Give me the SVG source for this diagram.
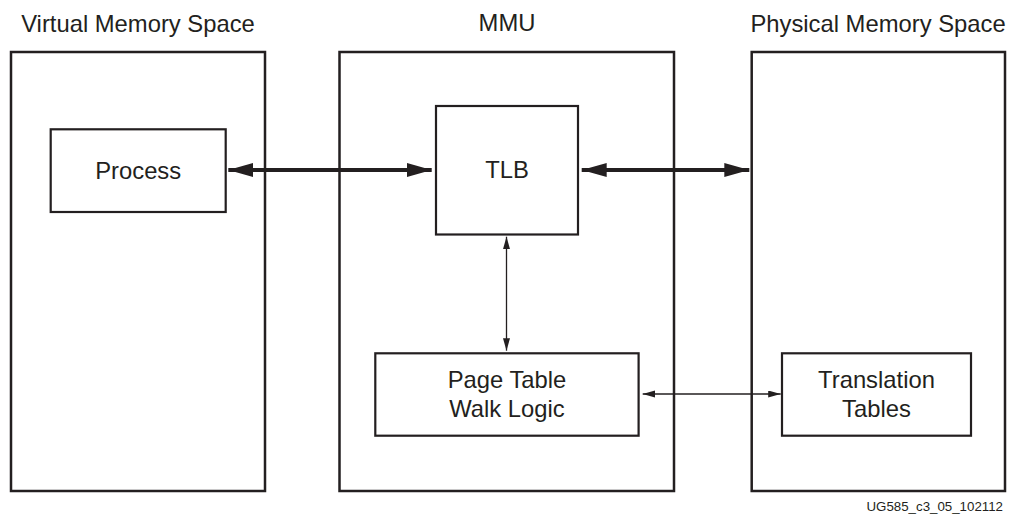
<svg xmlns="http://www.w3.org/2000/svg" width="1009" height="514" viewBox="0 0 1009 514">
<style>
text{font-family:"Liberation Sans",Arial,sans-serif;fill:#231f20;}
.t{font-size:23.8px;text-anchor:middle;}
.outer{fill:none;stroke:#231f20;stroke-width:2.5;}
.inner{fill:#fff;stroke:#231f20;stroke-width:2.2;}
.thick{stroke:#231f20;stroke-width:4;fill:none;}
.thin{stroke:#231f20;stroke-width:1.3;fill:none;}
.foot{font-size:13.3px;text-anchor:end;}
</style>
<defs>
<marker id="bigHead" markerUnits="userSpaceOnUse" markerWidth="26" markerHeight="16" refX="25" refY="7" orient="auto-start-reverse" viewBox="0 0 26 16">
<path d="M0,0 L25,7 L0,14 z" fill="#231f20"/>
</marker>
<marker id="smallHead" markerUnits="userSpaceOnUse" markerWidth="14" markerHeight="8" refX="12.5" refY="3.5" orient="auto-start-reverse" viewBox="0 0 14 8">
<path d="M0,0 L12.5,3.5 L0,7 z" fill="#231f20"/>
</marker>
</defs>
<rect width="1009" height="514" fill="#fff"/>
<g id="virtual-space">
<rect class="outer" x="11" y="52" width="254" height="439"/>
<text class="t" x="138" y="32">Virtual Memory Space</text>
</g>
<g id="mmu">
<rect class="outer" x="339.5" y="52" width="334.5" height="439"/>
<text class="t" x="507" y="31">MMU</text>
</g>
<g id="physical-space">
<rect class="outer" x="751.7" y="52" width="253.3" height="439"/>
<text class="t" x="878" y="32">Physical Memory Space</text>
</g>
<g id="process">
<rect class="inner" x="50.7" y="129.3" width="175" height="82.7"/>
<text class="t" x="138.2" y="179">Process</text>
</g>
<g id="tlb">
<rect class="inner" x="436" y="106" width="142" height="128.5"/>
<text class="t" x="507" y="177.5">TLB</text>
</g>
<g id="page-table-walk">
<rect class="inner" x="375.3" y="353.3" width="263.3" height="82.4"/>
<text class="t" x="507" y="388">Page Table</text>
<text class="t" x="507" y="416.5">Walk Logic</text>
</g>
<g id="translation-tables">
<rect class="inner" x="782" y="353.3" width="189" height="82.4"/>
<text class="t" x="876.5" y="388">Translation</text>
<text class="t" x="876.5" y="416.5">Tables</text>
</g>
<g id="connectors">
<line class="thick" x1="228.3" y1="170" x2="431.7" y2="170" marker-start="url(#bigHead)" marker-end="url(#bigHead)"/>
<line class="thick" x1="581.7" y1="170" x2="749.3" y2="170" marker-start="url(#bigHead)" marker-end="url(#bigHead)"/>
<line class="thin" x1="506.5" y1="236.7" x2="506.5" y2="350.7" marker-start="url(#smallHead)" marker-end="url(#smallHead)"/>
<line class="thin" x1="642.7" y1="394" x2="780.7" y2="394" marker-start="url(#smallHead)" marker-end="url(#smallHead)"/>
</g>
<text class="foot" x="1003" y="511">UG585_c3_05_102112</text>
</svg>
